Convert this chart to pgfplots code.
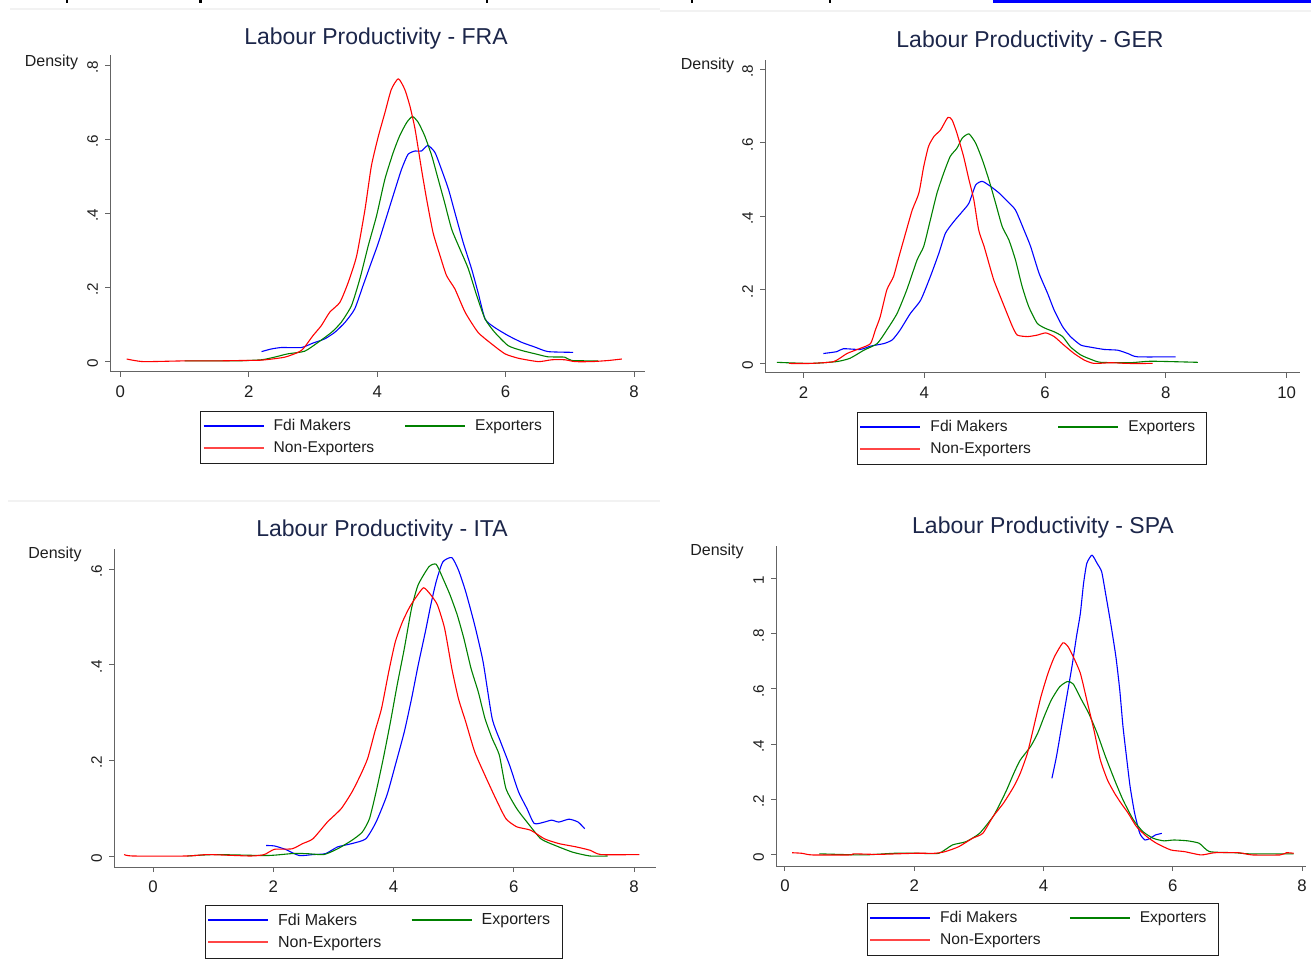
\documentclass[border=0pt]{standalone}
\usepackage{pgfplots}
\pgfplotsset{compat=1.18}
\usepackage{fontspec}
\setmainfont{Liberation Sans}
\definecolor{ttl}{RGB}{28,38,74}
\definecolor{sgreen}{RGB}{0,128,0}
\definecolor{sblue}{RGB}{0,0,255}
\definecolor{sred}{RGB}{255,0,0}
\definecolor{lred}{RGB}{255,70,70}
\definecolor{axgray}{RGB}{100,100,100}
\definecolor{txt}{RGB}{30,30,30}
\pgfplotsset{panel/.style={
  scale only axis, anchor=south west,
  axis x line=bottom, axis y line=left,
  axis line style={-, draw=axgray, line width=0.5pt},
  tick align=outside, major tick length=2.5pt,
  tick style={draw=axgray, line width=0.5pt},
  x tick label style={font=\fontsize{8.4}{9}\selectfont, text=txt, yshift=-1pt},
  y tick label style={font=\fontsize{7.6}{9}\selectfont, rotate=90, anchor=south, text=txt, xshift=-1pt},
  /pgf/number format/assume math mode=true,
  legend columns=2, legend cell align=left,
  legend image code/.code={\draw[##1, line width=1pt] (0pt,0.4pt) -- (30pt,0.4pt);},
  legend style={draw=txt, line width=0.5pt, font=\fontsize{7.8}{9}\selectfont, text=txt,
    inner xsep=1pt, inner ysep=2pt, nodes={inner sep=2pt, text depth=0.15em},
    anchor=north, /tikz/every odd column/.append style={column sep=2.5pt}},
}}
\tikzset{cb/.style={draw=sblue, line width=0.55pt, line join=round, smooth, tension=0.35},
         cg/.style={draw=sgreen, line width=0.55pt, line join=round, smooth, tension=0.35},
         cr/.style={draw=sred, line width=0.55pt, line join=round, smooth, tension=0.35}}
\newcommand{\leg}[2]{%
  \addlegendimage{draw=sblue}
  \addlegendentry{\makebox[#1][l]{Fdi Makers}}
  \addlegendimage{draw=sgreen}
  \addlegendentry{\makebox[#2][l]{Exporters}}
  \addlegendimage{draw=lred}
  \addlegendentry{Non-Exporters}}
\begin{document}
\begin{tikzpicture}
\path[use as bounding box] (0pt,0pt) rectangle (655.5pt,479pt);
% page artefacts
\fill[sblue] (496.5pt,477.5pt) rectangle (655.5pt,479pt);
\foreach \xx in {67,200.6,487,692,830}{\fill[black] (\xx*0.5pt-0.6pt,477.5pt) rectangle (\xx*0.5pt+0.6pt,479pt);}
\draw[black!5, line width=0.8pt] (5pt,474.5pt) -- (330pt,474.5pt);
\draw[black!5, line width=0.8pt] (330pt,473.5pt) -- (655.5pt,473.5pt);
\draw[black!5, line width=0.8pt] (4pt,228.5pt) -- (330pt,228.5pt);

% ---------------- FRA
\begin{axis}[panel, at={(55pt,293pt)}, width=267.5pt, height=158.5pt,
  xmin=-0.16, xmax=8.17, ymin=-0.028, ymax=0.827,
  xtick={0,2,4,6,8}, xticklabels={0,2,4,6,8},
  ytick={0,0.2,0.4,0.6,0.8}, yticklabels={0,.2,.4,.6,.8},
  legend style={at={(0.499,-0.123)}}]
\addplot[cb, forget plot] coordinates {(2.2,0.027) (2.35,0.034) (2.51,0.038) (2.82,0.038) (3.0,0.05) (3.18,0.061) (3.34,0.079) (3.5,0.106) (3.65,0.142) (3.78,0.205) (3.91,0.268) (4.02,0.321) (4.15,0.393) (4.28,0.465) (4.38,0.519) (4.48,0.559) (4.59,0.568) (4.69,0.568) (4.79,0.583) (4.9,0.564) (5.0,0.519) (5.11,0.465) (5.21,0.402) (5.34,0.321) (5.47,0.25) (5.57,0.187) (5.68,0.115) (5.83,0.092) (6.04,0.07) (6.25,0.052) (6.46,0.039) (6.66,0.027) (7.05,0.025)};
\addplot[cg, forget plot] coordinates {(1.0,0.002) (1.8,0.002) (2.2,0.005) (2.4,0.012) (2.61,0.021) (2.87,0.028) (3.08,0.052) (3.29,0.079) (3.44,0.106) (3.6,0.151) (3.73,0.223) (3.86,0.312) (3.99,0.393) (4.12,0.492) (4.25,0.564) (4.35,0.609) (4.46,0.645) (4.55,0.661) (4.64,0.645) (4.74,0.609) (4.85,0.555) (4.95,0.492) (5.05,0.429) (5.16,0.357) (5.29,0.303) (5.42,0.25) (5.55,0.178) (5.68,0.115) (5.83,0.079) (6.04,0.043) (6.25,0.03) (6.46,0.021) (6.66,0.013) (6.92,0.012) (7.03,0.003) (7.44,0.002)};
\addplot[cr, forget plot] coordinates {(0.1,0.007) (0.36,0.0) (1.0,0.002) (1.5,0.002) (1.89,0.003) (2.2,0.004) (2.56,0.012) (2.82,0.03) (3.0,0.07) (3.13,0.097) (3.26,0.133) (3.42,0.16) (3.55,0.214) (3.68,0.285) (3.81,0.41) (3.91,0.528) (4.02,0.609) (4.12,0.671) (4.22,0.734) (4.33,0.763) (4.43,0.734) (4.51,0.689) (4.59,0.627) (4.69,0.519) (4.77,0.438) (4.87,0.348) (4.98,0.285) (5.08,0.232) (5.21,0.196) (5.37,0.133) (5.57,0.079) (5.78,0.048) (5.99,0.021) (6.2,0.009) (6.51,0.0) (6.72,0.005) (6.92,0.005) (7.08,0.0) (7.34,0.0) (7.6,0.003) (7.81,0.007)};
\leg{63.25pt}{36pt}
\end{axis}

% ---------------- GER
\begin{axis}[panel, at={(382.5pt,292.5pt)}, width=267.5pt, height=156.5pt,
  xmin=1.363, xmax=10.22, ymin=-0.026, ymax=0.825,
  xtick={2,4,6,8,10}, xticklabels={2,4,6,8,10},
  ytick={0,0.2,0.4,0.6,0.8}, yticklabels={0,.2,.4,.6,.8},
  legend style={at={(0.499,-0.1246)}}]
\addplot[cb, forget plot] coordinates {(2.33,0.027) (2.55,0.032) (2.66,0.04) (2.94,0.038) (3.11,0.047) (3.33,0.054) (3.47,0.064) (3.6,0.091) (3.77,0.136) (3.94,0.172) (4.1,0.236) (4.24,0.299) (4.35,0.354) (4.49,0.386) (4.63,0.413) (4.74,0.436) (4.85,0.485) (4.96,0.495) (5.1,0.481) (5.24,0.463) (5.38,0.44) (5.51,0.417) (5.65,0.363) (5.76,0.318) (5.9,0.245) (6.04,0.191) (6.15,0.145) (6.29,0.1) (6.42,0.073) (6.59,0.05) (6.76,0.044) (6.98,0.038) (7.2,0.036) (7.37,0.027) (7.53,0.018) (8.16,0.018)};
\addplot[cg, forget plot] coordinates {(1.56,0.003) (2.11,0) (2.55,0.005) (2.77,0.014) (3.0,0.036) (3.22,0.054) (3.38,0.091) (3.55,0.136) (3.71,0.2) (3.88,0.281) (3.99,0.318) (4.1,0.39) (4.21,0.463) (4.32,0.517) (4.43,0.563) (4.54,0.585) (4.63,0.613) (4.74,0.624) (4.85,0.599) (4.96,0.554) (5.07,0.499) (5.18,0.436) (5.29,0.372) (5.4,0.336) (5.51,0.281) (5.62,0.209) (5.73,0.154) (5.87,0.109) (6.01,0.095) (6.15,0.086) (6.29,0.073) (6.42,0.045) (6.59,0.023) (6.76,0.011) (6.92,0.003) (7.42,0.002) (7.75,0.006) (8.53,0.003)};
\addplot[cr, forget plot] coordinates {(1.76,0) (2.11,0) (2.5,0.005) (2.72,0.027) (2.94,0.041) (3.11,0.054) (3.19,0.091) (3.27,0.127) (3.38,0.2) (3.49,0.236) (3.58,0.29) (3.69,0.354) (3.8,0.417) (3.91,0.463) (3.99,0.535) (4.07,0.59) (4.16,0.617) (4.27,0.635) (4.39,0.669) (4.46,0.662) (4.54,0.626) (4.65,0.563) (4.74,0.499) (4.82,0.445) (4.9,0.363) (4.99,0.318) (5.07,0.272) (5.15,0.227) (5.26,0.181) (5.37,0.136) (5.46,0.1) (5.54,0.077) (5.71,0.073) (5.87,0.077) (6.01,0.083) (6.15,0.073) (6.31,0.05) (6.48,0.027) (6.65,0.009) (6.81,0) (7.09,0.002) (7.37,0) (7.78,0)};
\leg{61.5pt}{36pt}
\end{axis}

% ---------------- ITA
\begin{axis}[panel, at={(57pt,45.5pt)}, width=271pt, height=159pt,
  xmin=-0.649, xmax=8.366, ymin=-0.023, ymax=0.642,
  xtick={0,2,4,6,8}, xticklabels={0,2,4,6,8},
  ytick={0,0.2,0.4,0.6}, yticklabels={0,.2,.4,.6},
  legend style={at={(0.498,-0.1195)}, font=\fontsize{8}{9}\selectfont}]
\addplot[cb, forget plot] coordinates {(1.88,0.022) (2.02,0.021) (2.2,0.014) (2.43,0.001) (2.66,0.003) (2.87,0.005) (3.07,0.019) (3.31,0.026) (3.54,0.036) (3.71,0.071) (3.89,0.127) (4.03,0.19) (4.18,0.26) (4.3,0.329) (4.41,0.399) (4.53,0.469) (4.62,0.525) (4.71,0.574) (4.82,0.615) (4.97,0.624) (5.08,0.598) (5.2,0.553) (5.35,0.483) (5.49,0.406) (5.64,0.288) (5.78,0.239) (5.93,0.19) (6.08,0.134) (6.22,0.099) (6.34,0.068) (6.51,0.071) (6.63,0.075) (6.75,0.071) (6.92,0.077) (7.07,0.071) (7.18,0.057)};
\addplot[cg, forget plot] coordinates {(0.57,0) (1.03,0.003) (1.9,0.001) (2.31,0.005) (2.55,0.005) (2.84,0.003) (3.07,0.015) (3.31,0.033) (3.48,0.05) (3.6,0.078) (3.71,0.134) (3.83,0.204) (3.95,0.281) (4.06,0.357) (4.18,0.434) (4.3,0.518) (4.41,0.567) (4.59,0.605) (4.71,0.61) (4.82,0.581) (4.94,0.546) (5.06,0.504) (5.17,0.455) (5.29,0.392) (5.41,0.343) (5.52,0.288) (5.64,0.246) (5.76,0.211) (5.87,0.141) (6.05,0.099) (6.22,0.071) (6.45,0.036) (6.69,0.022) (6.98,0.008) (7.27,0) (7.56,0)};
\addplot[cr, forget plot] coordinates {(-0.48,0.003) (-0.34,0) (0.57,0) (0.92,0.003) (1.62,0) (1.85,0.003) (2.02,0.014) (2.31,0.015) (2.49,0.026) (2.66,0.036) (2.9,0.071) (3.13,0.099) (3.31,0.134) (3.45,0.169) (3.57,0.204) (3.69,0.26) (3.8,0.308) (3.92,0.385) (4.03,0.448) (4.15,0.49) (4.27,0.521) (4.38,0.542) (4.5,0.561) (4.62,0.546) (4.73,0.525) (4.85,0.476) (4.97,0.392) (5.08,0.329) (5.2,0.281) (5.35,0.218) (5.52,0.169) (5.7,0.12) (5.87,0.078) (6.05,0.061) (6.28,0.054) (6.51,0.036) (6.75,0.026) (7.04,0.019) (7.27,0.012) (7.45,0.003) (8.09,0.003)};
\leg{64.3pt}{37.5pt}
\end{axis}

% ---------------- SPA
\begin{axis}[panel, at={(388pt,46pt)}, width=264.75pt, height=160pt,
  xmin=-0.139, xmax=8.054, ymin=-0.04, ymax=1.117,
  xtick={0,2,4,6,8}, xticklabels={0,2,4,6,8},
  ytick={0,0.2,0.4,0.6,0.8,1}, yticklabels={0,.2,.4,.6,.8,1},
  legend style={at={(0.504,-0.1156)}}]
\addplot[cb, forget plot] coordinates {(4.13,0.277) (4.2,0.355) (4.28,0.464) (4.36,0.572) (4.44,0.681) (4.51,0.789) (4.57,0.873) (4.62,0.982) (4.67,1.054) (4.75,1.084) (4.83,1.054) (4.9,1.024) (4.96,0.946) (5.04,0.837) (5.12,0.717) (5.18,0.596) (5.23,0.464) (5.29,0.343) (5.34,0.247) (5.41,0.151) (5.49,0.078) (5.57,0.054) (5.65,0.06) (5.73,0.072) (5.83,0.078)};
\addplot[cg, forget plot] coordinates {(0.53,0.004) (1.21,0) (1.69,0.006) (2.06,0.006) (2.38,0.006) (2.59,0.036) (2.8,0.048) (3.01,0.078) (3.22,0.139) (3.33,0.187) (3.43,0.235) (3.54,0.295) (3.64,0.343) (3.8,0.392) (3.91,0.44) (4.01,0.5) (4.12,0.56) (4.25,0.608) (4.37,0.627) (4.46,0.618) (4.59,0.56) (4.7,0.512) (4.83,0.44) (4.96,0.355) (5.1,0.271) (5.23,0.199) (5.39,0.127) (5.54,0.084) (5.7,0.06) (5.86,0.051) (6.02,0.054) (6.23,0.051) (6.41,0.042) (6.57,0.012) (6.97,0.008) (7.18,0.004) (7.87,0.004)};
\addplot[cr, forget plot] coordinates {(0.11,0.008) (0.26,0.006) (0.42,0) (1.0,0) (1.06,0.004) (1.43,0.002) (2.01,0.006) (2.32,0.006) (2.48,0.012) (2.69,0.03) (2.9,0.06) (3.06,0.078) (3.22,0.139) (3.38,0.187) (3.54,0.247) (3.64,0.295) (3.75,0.367) (3.85,0.464) (3.96,0.572) (4.07,0.657) (4.17,0.717) (4.3,0.767) (4.38,0.753) (4.46,0.717) (4.57,0.657) (4.67,0.56) (4.78,0.452) (4.88,0.343) (4.99,0.271) (5.1,0.223) (5.2,0.187) (5.31,0.151) (5.44,0.102) (5.6,0.066) (5.75,0.042) (5.97,0.018) (6.18,0.012) (6.44,0) (6.65,0.008) (7.02,0.008) (7.23,0) (7.66,0) (7.76,0.008) (7.87,0.006)};
\leg{62.3pt}{36.4pt}
\end{axis}

% titles and y titles
\begin{scope}[every node/.style={font=\fontsize{11.5}{13}\selectfont, text=ttl}]
\node at (188pt,459.5pt) {Labour Productivity - FRA};
\node at (515pt,458pt) {Labour Productivity - GER};
\node at (191pt,213.5pt) {Labour Productivity - ITA};
\node at (521.5pt,215pt) {Labour Productivity - SPA};
\end{scope}
\begin{scope}[every node/.style={font=\fontsize{8}{9}\selectfont, text=txt}]
\node at (25.75pt,448pt) {Density};
\node at (353.75pt,446.5pt) {Density};
\node at (27.5pt,202pt) {Density};
\node at (358.5pt,203.5pt) {Density};
\end{scope}
\end{tikzpicture}
\end{document}
